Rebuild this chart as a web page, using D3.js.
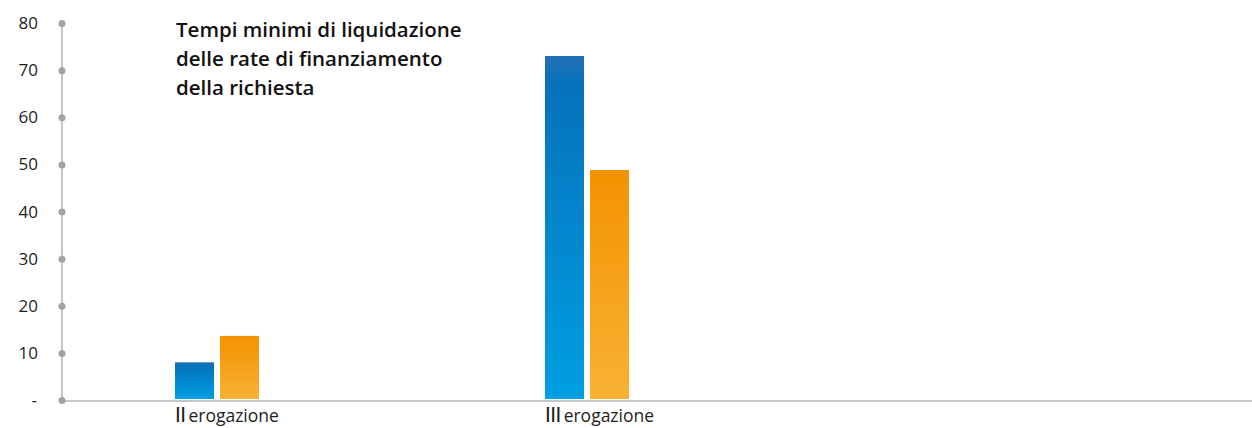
<!DOCTYPE html>
<html>
<head>
<meta charset="utf-8">
<script src="https://cdn.jsdelivr.net/npm/d3@7"></script>
<style>
  body { margin: 0; background: #fff; }
  svg text { font-family: "Open Sans", Roboto, sans-serif; }
</style>
</head>
<body>
<div id="chart"></div>
<script>
const width = 1252;
const height = 428;

const categories = ["II", "III"];
const categoryLabels = ["erogazione", "erogazione"];
const seriesBlue = [8, 73];
const seriesOrange = [13.6, 48.8];
const yTicks = [0, 10, 20, 30, 40, 50, 60, 70, 80];
const titleLines = ["Tempi minimi di liquidazione", "delle rate di finanziamento", "della richiesta"];

const svg = d3.select('#chart')
    .append('svg')
    .attr('width', width)
    .attr('height', height);

const defs = svg.append('defs');
function grad(id, stops){
    const g = defs.append('linearGradient').attr('id', id)
        .attr('x1', 0).attr('y1', 0).attr('x2', 0).attr('y2', 1);
    stops.forEach(s => g.append('stop').attr('offset', s[0]).attr('stop-color', s[1]));
}
grad('gBlue', [[0, '#2370b6'], [0.08, '#0572ba'], [1, '#009fe2']]);
grad('gOrange', [[0, '#f39200'], [1, '#f8b234']]);

const y = d3.scaleLinear().domain([0, 80]).range([400, 23]);
const x = d3.scaleBand().domain(categories).range([32, 772]);
const barW = 39, gap = 6;

// axis lines
svg.append('line')
    .attr('x1', 62).attr('x2', width)
    .attr('y1', y(0) + 1).attr('y2', y(0) + 1)
    .attr('stroke', '#c6c6c6').attr('stroke-width', 2);
svg.append('line')
    .attr('x1', 62).attr('x2', 62)
    .attr('y1', y(80)).attr('y2', y(0))
    .attr('stroke', '#c6c6c6').attr('stroke-width', 2);

// y tick dots and labels
svg.append('g').selectAll('circle')
    .data(yTicks).enter()
    .append('circle')
    .attr('cx', 62).attr('cy', d => y(d) + 0.5).attr('r', 3.5)
    .attr('fill', '#a3a3a3');
svg.append('g').selectAll('text')
    .data(yTicks).enter()
    .append('text')
    .attr('x', d => d === 0 ? 37 : 38)
    .attr('y', d => y(d) + 6)
    .attr('text-anchor', 'end')
    .attr('font-size', 17)
    .attr('fill', '#1d1d1b')
    .text(d => d === 0 ? '-' : d);

// bars
const bx = (i) => x(categories[i]) + x.bandwidth() / 2 - barW - gap / 2;
svg.append('g').selectAll('rect')
    .data(seriesBlue).enter()
    .append('rect')
    .attr('x', (d, i) => bx(i))
    .attr('y', d => y(d))
    .attr('width', barW)
    .attr('height', d => y(0) - y(d) - 1)
    .attr('fill', 'url(#gBlue)');
svg.append('g').selectAll('rect')
    .data(seriesOrange).enter()
    .append('rect')
    .attr('x', (d, i) => bx(i) + barW + gap)
    .attr('y', d => y(d))
    .attr('width', barW)
    .attr('height', d => y(0) - y(d) - 1)
    .attr('fill', 'url(#gOrange)');

// category labels
const lab = svg.append('g').selectAll('text')
    .data(categories).enter()
    .append('text')
    .attr('x', (d, i) => bx(i))
    .attr('y', 422)
    .attr('font-size', 17.5)
    .attr('fill', '#1d1d1b');
lab.append('tspan').attr('font-family', 'Roboto').attr('font-size', 21).attr('letter-spacing', -0.5).text(d => d);
lab.append('tspan').attr('dx', 3).text((d, i) => categoryLabels[i]);

// title
svg.append('g').selectAll('text')
    .data(titleLines).enter()
    .append('text')
    .attr('x', 176)
    .attr('y', (d, i) => 37 + i * 29)
    .attr('font-size', 20.5)
    .attr('font-weight', 600)
    .attr('letter-spacing', 0)
    .attr('fill', '#111')
    .text(d => d);
</script>
</body>
</html>
